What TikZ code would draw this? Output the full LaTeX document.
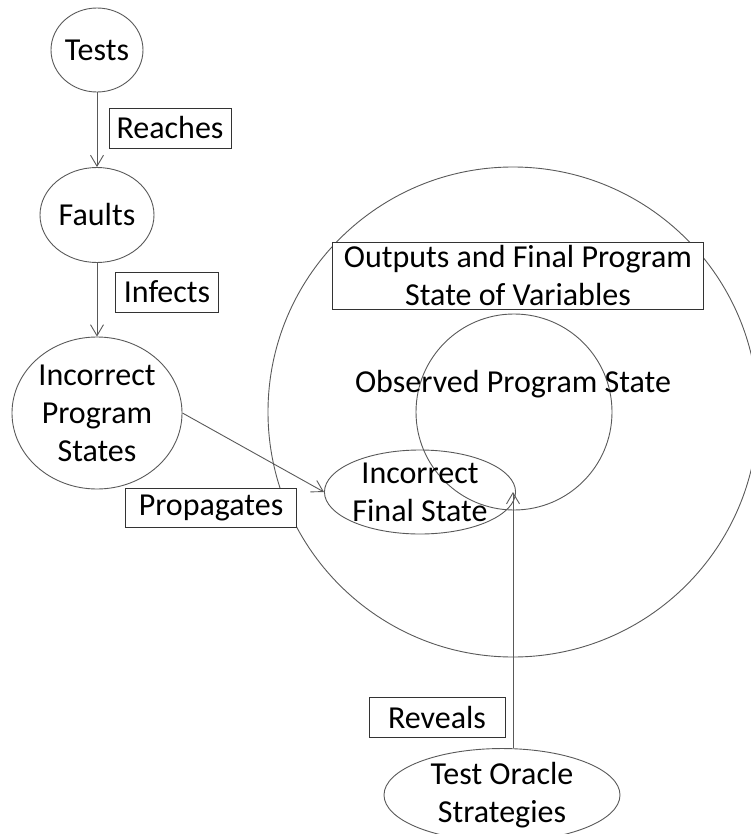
\documentclass[tikz,border=0pt]{standalone}
\usepackage{fontspec}
\setmainfont{Carlito}
\usetikzlibrary{shapes.geometric,arrows.meta}
\begin{document}
\begin{tikzpicture}[x=1pt,y=-1pt,
    every node/.style={font=\fontsize{32}{38}\selectfont, align=center, inner sep=0pt},
    oval/.style={draw=black!65, line width=0.9pt, ellipse},
    labelbox/.style={draw=black!80, line width=0.9pt, rectangle, minimum height=40pt},
    link/.style={draw=black!65, line width=0.9pt, -{Straight Barb[length=11pt,width=13pt]}}]
       \useasboundingbox (0,0) rectangle (751,834);
       \clip (0,0) rectangle (751,834);
       \node[oval, circle, minimum size=490pt] (outer) at (513,412) {};
       \node[oval, circle, minimum size=196pt] (observed) at (514,412) {};
       \node at (513,384) {Observed Program State};
       \node[labelbox, fill=white, minimum width=371pt, minimum height=67pt] (outputs) at (518,276) {Outputs and Final Program\\State of Variables};
       \node[oval, minimum width=92pt, minimum height=84pt] (tests) at (97,50) {Tests};
       \node[oval, minimum width=114pt, minimum height=95pt] (faults) at (97,215) {Faults};
       \node[oval, minimum width=170pt, minimum height=152pt] (ips) at (97,413) {Incorrect\\Program\\States};
       \node[oval, minimum width=186pt, minimum height=84pt] (ifs) at (420,492) {Incorrect\\Final State};
       \node[oval, minimum width=236pt, minimum height=80pt] (oracle) at (502,795) {Test Oracle\\Strategies};
       \node[labelbox, minimum width=122pt] (reaches) at (170,128) {Reaches};
       \node[labelbox, minimum width=103pt] (infects) at (167,292) {Infects};
       \node[labelbox, fill=white, minimum width=171pt, minimum height=39pt] (propagates) at (211,508) {Propagates};
       \node[labelbox, minimum width=136pt] (reveals) at (437,717) {Reveals};
       \coordinate (seen) at (513,492);
       \draw[link] (tests) -- (faults);
       \draw[link] (faults) -- (ips);
       \draw[link] (ips.east) -- (ifs.west);
       \draw[link] (seen |- oracle.north) -- (seen);
    \end{tikzpicture}
\end{document}
